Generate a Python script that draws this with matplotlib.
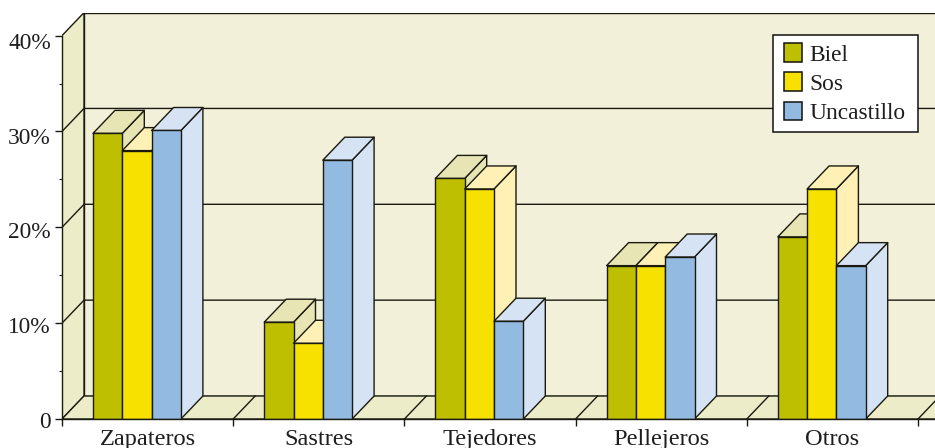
import matplotlib
matplotlib.use("Agg")
import matplotlib.pyplot as plt
from matplotlib.patches import Polygon, Patch
from matplotlib.path import Path
from matplotlib.ticker import FixedLocator, FuncFormatter, NullFormatter
from matplotlib.transforms import ScaledTranslation

categories = ["Zapateros", "Sastres", "Tejedores", "Pellejeros", "Otros"]
biel = [29.8, 10.1, 25.1, 16.0, 19.0]
sos = [28.0, 7.9, 24.0, 16.0, 24.0]
uncastillo = [30.1, 27.0, 10.2, 16.9, 16.0]
series_names = ["Biel", "Sos", "Uncastillo"]
series_values = [biel, sos, uncastillo]
y_ticks = [0, 10, 20, 30, 40]
y_minor_ticks = [5, 15, 25, 35]

front_colors = ["#BDBF00", "#F7E100", "#93BAE0"]
light_colors = ["#E6E5B3", "#FFF0B5", "#D6E3F4"]
WALL = "#F2F0D9"
SIDE = "#ECECC8"
INK = "#1A1A10"
LW = 1.0
W, H = 935, 448
X0, Y0, XR, YT = 62, 419, 935, 13
PX_CAT, PX_TEN = 171.2, 95.85
DX, DY = 22 / PX_CAT, 23 / PX_TEN * 10
BAR_W = 29.3 / PX_CAT
BAR_START = 31 / PX_CAT
Y_LABEL_SHIFT_PX = [1, 2, 3, 5, 5]

plt.rcParams["font.family"] = ["Liberation Serif", "DejaVu Serif"]
plt.rcParams["font.size"] = 16.8

fig = plt.figure(figsize=(W / 100, H / 100), dpi=100)
ax = fig.add_axes([X0 / W, (H - Y0) / H, (XR - X0) / W, (Y0 - YT) / H])
xmax = (XR - X0) / PX_CAT
ymax = (Y0 - YT) / PX_TEN * 10
ax.set_xlim(0, xmax)
ax.set_ylim(0, ymax)
ax.patch.set_visible(False)


def poly(pts, fc, z=1, ec=INK):
    p = Polygon(pts, closed=True, facecolor=fc, edgecolor=ec, linewidth=LW, zorder=z, joinstyle="round")
    ax.add_patch(p)


top = y_ticks[-1]
# back wall, side wall, floor
poly([(DX, DY), (xmax + 1, DY), (xmax + 1, top + DY), (DX, top + DY)], WALL, 1)
poly([(0, 0), (DX, DY), (DX, top + DY), (0, top)], SIDE, 2)
poly([(0, 0), (DX, DY), (xmax + 1, DY), (xmax + 1, 0)], SIDE, 2)
for v in y_ticks[1:-1]:
    ax.plot([0, DX, xmax], [v, v + DY, v + DY], color=INK, lw=LW, zorder=3, solid_joinstyle="miter")
for i in range(1, len(categories) + 1):
    ax.plot([i, i + DX], [0, DY], color=INK, lw=LW, zorder=3)

# bars, painted from left to right
z = 5
for c in range(len(categories)):
    for s, values in enumerate(series_values):
        v = values[c]
        x0 = c + BAR_START + s * BAR_W
        x1 = x0 + BAR_W
        poly([(x1, 0), (x1 + DX, DY), (x1 + DX, v + DY), (x1, v)], light_colors[s], z)
        poly([(x0, v), (x1, v), (x1 + DX, v + DY), (x0 + DX, v + DY)], light_colors[s], z)
        poly([(x0, 0), (x1, 0), (x1, v), (x0, v)], front_colors[s], z)
        z += 1

# axes
for name in ("top", "right"):
    ax.spines[name].set_visible(False)
ax.spines["left"].set_bounds(0, top)
for sp in ("left", "bottom"):
    ax.spines[sp].set_linewidth(LW)
    ax.spines[sp].set_color(INK)
    ax.spines[sp].set_zorder(60)

ax.yaxis.set_major_locator(FixedLocator(y_ticks))
ax.yaxis.set_minor_locator(FixedLocator(y_minor_ticks))
ax.yaxis.set_major_formatter(FuncFormatter(lambda v, _: "0" if v == 0 else f"{v:.0f}%"))
ax.xaxis.set_major_locator(FixedLocator(range(len(categories) + 1)))
ax.xaxis.set_major_formatter(NullFormatter())
ax.set_xticks([i + 0.5 for i in range(len(categories))], categories, minor=True)
ax.tick_params(axis="y", which="major", length=5, width=LW, color=INK, pad=3, labelcolor="#1E1E1E", labelsize=16.8)
ax.tick_params(axis="y", which="minor", length=2.2, width=LW * 0.8, color=INK)
ax.tick_params(axis="x", which="major", length=5, width=LW, color=INK)
ax.tick_params(axis="x", which="minor", length=0, pad=7, labelcolor="#1E1E1E", labelsize=17.6)

for tick, shift in zip(ax.yaxis.get_major_ticks(), Y_LABEL_SHIFT_PX):
    lab = tick.label1
    lab.set_transform(lab.get_transform() + ScaledTranslation(0, -shift / 100, fig.dpi_scale_trans))

handles = [Patch(facecolor=f, edgecolor="#111111", linewidth=1.1, label=n) for f, n in zip(front_colors, series_names)]
leg = ax.legend(handles=handles, loc="upper right", bbox_to_anchor=(914 / W, 1 - 35 / H),
                bbox_transform=fig.transFigure, borderaxespad=0, fancybox=False, framealpha=1,
                edgecolor="#111111", fontsize=16.8, handlelength=0.81, handleheight=0.82,
                handletextpad=0.3, labelspacing=0.295, borderpad=0.36, labelcolor="#1E1E1E")


def wide_box(x0, y0, w, h, mutation_size):
    # the frame has more room at the sides than above and below
    l, r = x0 - 3 * 0.72, x0 + w + 5 * 0.72
    return Path([(l, y0), (r, y0), (r, y0 + h), (l, y0 + h), (l, y0)], closed=True)


leg.get_frame().set_boxstyle(wide_box)
leg.get_frame().set_linewidth(1.1)
leg.set_zorder(100)

fig.savefig("out.png", dpi=100)
